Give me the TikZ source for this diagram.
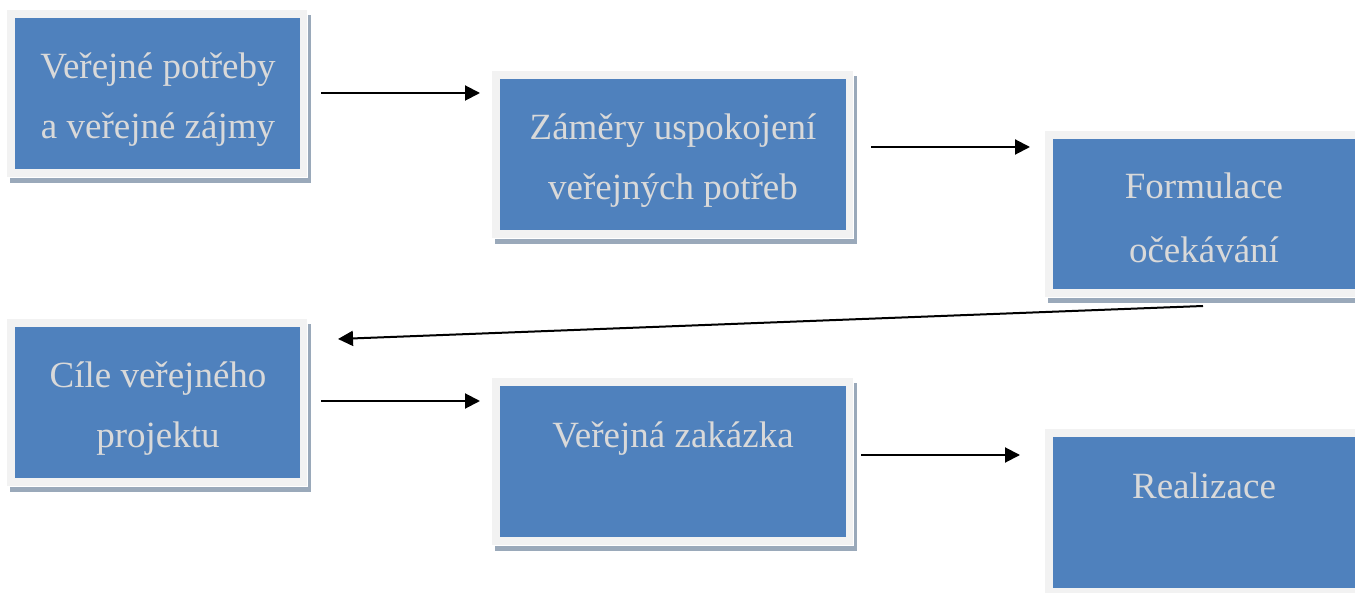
\documentclass[tikz,border=0pt]{standalone}
\usepackage{fontspec}
\setmainfont{Liberation Serif}
\usetikzlibrary{arrows.meta}
\definecolor{boxblue}{HTML}{4F81BD}
\definecolor{framegray}{HTML}{F2F2F2}
\definecolor{shadowgray}{HTML}{9AA9BA}
\definecolor{txtgray}{HTML}{D9D9D9}
\newcommand\projbox[5]{%
  \fill[shadowgray] (#2-5,#3-3) rectangle (#4+11,#5+14);
  \fill[white] (#2-8,#3-8) rectangle (#4+8,#5+9);
  \fill[framegray] (#2-8,#3-8) rectangle (#4+7,#5+8);
  \node[bluebox, minimum width={(#4-#2)*1pt}, minimum height={(#5-#3)*1pt}] (#1) at ({(#2+#4)/2},{(#3+#5)/2}) {};
}
\begin{document}
\begin{tikzpicture}[x=1pt,y=-1pt,
  bluebox/.style={fill=boxblue, draw=none, inner sep=0pt, outer sep=0pt},
  txt/.style={anchor=base, text=txtgray, font=\fontsize{37}{44}\selectfont, inner sep=0pt},
  arr/.style={-{Triangle[length=15pt,width=15pt]}, line width=2pt, black}]
\clip (0,0) rectangle (1355,593);
\fill[white] (0,0) rectangle (1355,593);
\projbox{b1}{15}{18}{300}{169}
\projbox{b2}{500}{79}{846}{230}
\projbox{b3}{1053}{139}{1355}{289}
\projbox{b4}{15}{327}{300}{478}
\projbox{b5}{500}{386}{846}{537}
\projbox{b6}{1053}{437}{1355}{588}
% texts
\node[txt] (t1a) at (158,79) {Veřejné potřeby};
\node[txt] (t1b) at (158,139) {a veřejné zájmy};
\node[txt] (t2a) at (673,140) {Záměry uspokojení};
\node[txt] (t2b) at (673,200) {veřejných potřeb};
\node[txt] (t3a) at (1204,199) {Formulace};
\node[txt] (t3b) at (1204,263) {očekávání};
\node[txt] (t4a) at (158,388) {Cíle veřejného};
\node[txt] (t4b) at (158,448) {projektu};
\node[txt] (t5a) at (673,447) {Veřejná zakázka};
\node[txt] (t6a) at (1204,498) {Realizace};
% arrows
\draw[arr] ([shift={(21,-0.5)}]b1.east) -- ([shift={(-20,14)}]b2.north west);
\draw[arr] ([shift={(25,-7.5)}]b2.east) -- ([shift={(-23,-67)}]b3.west);
\draw[arr] ([shift={(-1,17)}]b3.south) -- ([shift={(38,12)}]b4.north east);
\draw[arr] ([shift={(21,-1.5)}]b4.east) -- ([shift={(-20,15)}]b5.north west);
\draw[arr] ([shift={(15,-6.5)}]b5.east) -- ([shift={(-33,-57.5)}]b6.west);
\end{tikzpicture}
\end{document}
